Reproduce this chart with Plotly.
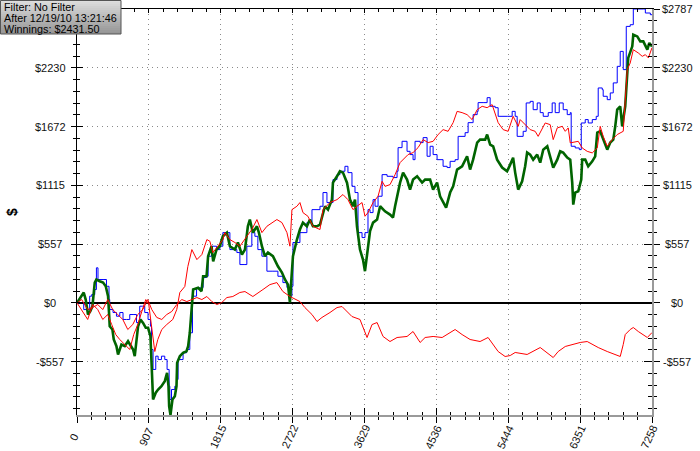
import plotly.graph_objects as go

# ---------------- data (hands played, $ won) ----------------
net_hands = [0, 56, 85, 110, 139, 167, 195, 224, 245, 287, 329, 363, 392, 404, 413, 447, 464, 498, 518, 561,
             603, 644, 687, 708, 729, 751, 771, 801, 834, 868, 897, 927, 940, 953, 960, 994, 1024, 1066, 1108, 1137,
             1155, 1163, 1180, 1205, 1235, 1256, 1264, 1298, 1339, 1382, 1403, 1424, 1446, 1466, 1529, 1572, 1592,
             1635, 1655, 1698, 1719, 1761, 1803, 1841, 1892, 1930, 1993, 2031, 2082, 2120, 2157, 2182, 2220, 2271,
             2296, 2334, 2372, 2410, 2473, 2536, 2587, 2625, 2663, 2688, 2700, 2726, 2776, 2814, 2852, 2902, 2940,
             2978, 3029, 3067, 3130, 3168, 3218, 3231, 3282, 3319, 3357, 3408, 3446, 3484, 3509, 3534, 3572, 3610,
             3635, 3661, 3699, 3737, 3788, 3826, 3888, 3951, 3989, 4015, 4078, 4116, 4166, 4204, 4242, 4293, 4356,
             4394, 4457, 4495, 4545, 4583, 4621, 4659, 4710, 4748, 4798, 4861, 4924, 4962, 5000, 5051, 5088, 5152,
             5177, 5215, 5253, 5303, 5366, 5429, 5468, 5505, 5531, 5569, 5619, 5657, 5682, 5720, 5758, 5809, 5847,
             5885, 5936, 5973, 6011, 6062, 6099, 6137, 6188, 6226, 6251, 6264, 6289, 6327, 6365, 6377, 6415, 6453,
             6504, 6541, 6567, 6604, 6642, 6693, 6731, 6769, 6794, 6819, 6857, 6882, 6920, 6946, 6958, 7009, 7022,
             7072, 7110, 7148, 7199, 7224, 7258]
net_won = [0, 63, 98, 31, -111, -80, -32, 192, 221, 205, 192, 157, 63, -92, -222, -253, -348, -411, -490, -395,
           -411, -364, -411, -443, -506, -348, -222, -158, -190, -237, -237, -317, -538, -791, -917, -853, -822, -791,
           -743, -664, -791, -980, -1064, -917, -885, -791, -569, -506, -474, -459, -411, -284, -32, 126, 142, 110,
           252, 252, 442, 537, 394, 505, 537, 631, 666, 537, 505, 572, 458, 505, 726, 790, 666, 726, 666, 537, 442,
           477, 442, 347, 287, 221, 173, 3, 157, 442, 600, 695, 761, 726, 790, 726, 726, 742, 916, 884, 979, 1140,
           1200, 1248, 1235, 1140, 979, 916, 979, 726, 505, 410, 300, 442, 680, 761, 790, 916, 868, 837, 809, 916,
           1140, 1235, 1169, 1074, 1169, 1200, 1140, 1169, 1169, 1074, 1140, 1011, 951, 903, 1046, 1105, 1264, 1295,
           1390, 1264, 1358, 1520, 1548, 1548, 1596, 1501, 1485, 1358, 1283, 1248, 1311, 1377, 1235, 1074, 1153,
           1295, 1425, 1406, 1358, 1406, 1330, 1453, 1485, 1390, 1283, 1358, 1437, 1425, 1377, 1358, 1140, 932,
           1046, 1058, 1169, 1358, 1358, 1295, 1342, 1390, 1614, 1627, 1548, 1453, 1520, 1548, 1674, 1832, 1864,
           1674, 1864, 2243, 2323, 2433, 2543, 2527, 2480, 2480, 2401, 2465, 2431.5]

ev_hands = [0, 34, 85, 135, 160, 186, 224, 245, 265, 329, 372, 404, 413, 455, 498, 540, 581, 624, 666, 708, 751,
            792, 826, 855, 897, 927, 940, 960, 994, 1024, 1066, 1108, 1137, 1163, 1172, 1193, 1235, 1256, 1276,
            1339, 1382, 1424, 1458, 1509, 1572, 1592, 1635, 1655, 1698, 1761, 1803, 1841, 1930, 2018, 2056, 2120,
            2144, 2207, 2245, 2283, 2334, 2397, 2473, 2536, 2599, 2650, 2688, 2713, 2726, 2789, 2814, 2902, 2966,
            3067, 3105, 3155, 3193, 3231, 3282, 3319, 3382, 3420, 3471, 3509, 3547, 3598, 3635, 3673, 3699, 3737,
            3762, 3800, 3851, 3914, 3989, 4040, 4053, 4103, 4166, 4204, 4242, 4267, 4331, 4369, 4419, 4457, 4495,
            4545, 4621, 4672, 4710, 4773, 4811, 4899, 4937, 4987, 5000, 5051, 5063, 5126, 5177, 5215, 5278, 5316,
            5430, 5493, 5531, 5556, 5632, 5670, 5720, 5758, 5809, 5847, 5885, 5948, 5998, 6036, 6087, 6137, 6188,
            6226, 6238, 6289, 6340, 6365, 6415, 6453, 6504, 6554, 6579, 6630, 6642, 6693, 6731, 6769, 6819, 6857,
            6895, 6933, 6983, 7022, 7148, 7174, 7237, 7258]
ev_won = [0, 3, -64, -64, 63, 79, 126, 332, 221, 221, 157, 31, -64, -92, -127, -92, -158, -158, -111, -111, -187,
          -32, -32, -92, -158, -222, -443, -632, -506, -538, -506, -538, -632, -791, -917, -822, -791, -727, -538,
          -474, -443, -284, 63, 142, 145, 240, 252, 442, 537, 505, 537, 666, 505, 477, 363, 363, 537, 666, 631, 505,
          442, 300, 300, 252, 192, 145, 63, 157, 572, 572, 666, 761, 884, 916, 1046, 951, 951, 1169, 1216, 1248,
          1295, 1235, 1105, 1046, 666, 619, 666, 884, 856, 979, 916, 1011, 1216, 1200, 1188, 1248, 1472, 1532, 1437,
          1406, 1358, 1532, 1520, 1567, 1390, 1485, 1406, 1358, 1295, 1283, 1342, 1358, 1579, 1614, 1709, 1709,
          1785, 1816, 1899, 1899, 1946, 1864, 1851, 1769, 1769, 1816, 1769, 1579, 1627, 1896, 1911, 1832, 1896,
          1804, 1769, 1804, 1896, 1804, 1896, 1832, 1785, 1804, 1485, 1469, 1453, 1706, 1738, 1706, 1738, 1769,
          2038, 2022, 1959, 1927, 1991, 2086, 2243, 2385, 2212, 2622, 2638, 2787, 2787, 2749, 2733, 2733]

sd_hands = [0, 59, 135, 198, 262, 325, 388, 438, 489, 540, 603, 666, 716, 767, 818, 868, 906, 944, 982, 1020,
            1070, 1133, 1209, 1259, 1298, 1361, 1399, 1450, 1513, 1576, 1639, 1677, 1715, 1778, 1841, 1866, 1930,
            1993, 2056, 2144, 2207, 2271, 2334, 2397, 2460, 2523, 2587, 2650, 2688, 2713, 2776, 2814, 2852, 2915,
            2978, 3067, 3105, 3193, 3282, 3357, 3420, 3484, 3534, 3598, 3635, 3673, 3737, 3800, 3851, 3888, 3951,
            4015, 4078, 4116, 4179, 4242, 4305, 4369, 4432, 4495, 4558, 4621, 4684, 4748, 4798, 4861, 4924, 4987,
            5051, 5114, 5177, 5240, 5278, 5316, 5379, 5442, 5505, 5569, 5594, 5682, 5720, 5783, 5821, 5910, 5973,
            6011, 6062, 6125, 6163, 6201, 6226, 6327, 6377, 6440, 6504, 6567, 6604, 6642, 6693, 6756, 6819, 6895,
            6933, 6946, 6983, 7022, 7085, 7135, 7174, 7212, 7258]
sd_won = [0, -64, -158, -16, -64, -158, -111, -206, -301, -348, -395, -443, -301, -206, -82, 31, -16, -253, -462,
          -348, -253, -206, -158, -64, 98, 155, 344, 505, 410, 458, 600, 584, 477, 537, 600, 666, 600, 572, 537, 631,
          695, 790, 666, 726, 761, 790, 761, 666, 537, 884, 916, 951, 856, 821, 726, 695, 884, 951, 979, 1027, 979,
          884, 916, 951, 821, 856, 951, 1011, 1153, 1105, 1121, 1216, 1330, 1358, 1406, 1425, 1472, 1548, 1520,
          1532, 1596, 1643, 1627, 1709, 1816, 1804, 1785, 1738, 1832, 1864, 1851, 1880, 1804, 1709, 1643, 1627,
          1769, 1674, 1738, 1674, 1643, 1627, 1579, 1706, 1690, 1548, 1659, 1674, 1627, 1659, 1517, 1532, 1469,
          1437, 1422, 1469, 1674, 1579, 1485, 1548, 1596, 1627, 2022, 2212, 2275, 2401, 2370, 2338, 2354, 2323,
          2420]

nsd_hands = [0, 59, 135, 198, 262, 325, 388, 451, 514, 578, 641, 704, 767, 830, 893, 944, 1007, 1070, 1133, 1196,
             1259, 1323, 1386, 1450, 1513, 1576, 1639, 1702, 1765, 1828, 1892, 1967, 2056, 2120, 2220, 2347, 2435,
             2523, 2599, 2688, 2814, 2877, 2966, 3029, 3092, 3193, 3282, 3345, 3471, 3572, 3635, 3661, 3724, 3788,
             3863, 3951, 4040, 4166, 4242, 4331, 4394, 4495, 4609, 4773, 4861, 4962, 5088, 5189, 5316, 5404, 5468,
             5531, 5682, 5847, 6011, 6074, 6163, 6251, 6352, 6440, 6579, 6693, 6794, 6857, 6895, 6920, 6983, 7022,
             7085, 7148, 7199, 7258]
nsd_won = [0, 31, -64, -45, -16, -64, 31, -64, -111, -158, -253, -206, -111, -64, 31, -64, -139, -158, -111, -82,
           -16, 31, 12, 31, 50, 31, 60, 12, -16, 3, 50, 60, 98, 107, 60, 126, 173, 192, 107, 60, 12, -45, -111,
           -177, -139, -92, -45, -35, -130, -158, -282, -329, -206, -187, -319, -367, -329, -319, -272, -376, -329,
           -319, -329, -253, -301, -348, -367, -329, -462, -509, -500, -471, -490, -424, -519, -462, -414, -395,
           -376, -367, -424, -462, -490, -509, -395, -301, -253, -234, -272, -301, -329, -282]

x_tick_labels = ["0", "907", "1815", "2722", "3629", "4536", "5444", "6351", "7258"]
y_tick_labels = ["-$557", "$0", "$557", "$1115", "$1672", "$2230", "$2787"]
info_lines = ["Filter: No Filter", "After 12/19/10 13:21:46", "Winnings: $2431.50"]
y_title = "$"

# ---------------- geometry / style ----------------
W, H = 700, 451
ML, MR, MT, MB = 77, 48, 9, 36
PW, PH = W - ML - MR, H - MT - MB


def px_x(px):
    return (px - ML) / PW


def px_y(py):
    return (H - MB - py) / PH


x_max = max(net_hands + ev_hands + sd_hands + nsd_hands)
y_max = max(net_won + ev_won + sd_won + nsd_won)
y_min = min(net_won + ev_won + sd_won + nsd_won)
x_step = x_max / 8
y_step = y_max / 5

fig = go.Figure()
fig.add_trace(go.Scatter(x=ev_hands, y=ev_won, mode="lines", line=dict(color="#0000ff", width=1, shape="hv"),
                         name="EV", showlegend=False))
fig.add_trace(go.Scatter(x=net_hands, y=net_won, mode="lines", line=dict(color="#006400", width=2.6),
                         name="Winnings", showlegend=False))
fig.add_trace(go.Scatter(x=sd_hands, y=sd_won, mode="lines", line=dict(color="#ff0000", width=1),
                         name="Showdown", showlegend=False))
fig.add_trace(go.Scatter(x=nsd_hands, y=nsd_won, mode="lines", line=dict(color="#ff0000", width=1),
                         name="Non-showdown", showlegend=False))

# invisible traces so the tick-only twin axes are drawn
for xa, ya in [("x2", "y"), ("x3", "y"), ("x", "y2"), ("x", "y3"), ("x", "y4")]:
    fig.add_trace(go.Scatter(x=[0], y=[0], xaxis=xa, yaxis=ya, mode="markers",
                             marker=dict(opacity=0), hoverinfo="skip", showlegend=False))

grid = dict(showgrid=True, gridcolor="#8a8a8a", gridwidth=1, griddash="1px,4px")
common_x = dict(range=[0, x_max], tickmode="linear", tick0=0, dtick=x_step, showticklabels=False,
                zeroline=False, tickcolor="black", tickwidth=1)
common_y = dict(range=[y_min, y_max], tickmode="linear", tick0=0, dtick=y_step, showticklabels=False,
                tickcolor="black", tickwidth=1)


def minor(direction, length, step):
    return dict(tickmode="linear", tick0=0, dtick=step, ticks=direction, ticklen=length,
                tickcolor="black", tickwidth=1, showgrid=False)


fig.update_layout(
    width=W, height=H,
    margin=dict(l=ML, r=MR, t=MT, b=MB, pad=0),
    paper_bgcolor="white", plot_bgcolor="white",
    showlegend=False,
    xaxis=dict(**common_x, **grid, anchor="y", side="bottom", ticks="outside", ticklen=6,
               minor=minor("outside", 3, x_step / 5),
               showline=True, linecolor="#9a9a9a", linewidth=2),
    xaxis2=dict(**common_x, overlaying="x", anchor="y", side="bottom", ticks="inside", ticklen=7,
                minor=minor("inside", 3, x_step / 5), showgrid=False, showline=False),
    xaxis3=dict(**common_x, overlaying="x", anchor="y", side="top", ticks="inside", ticklen=4,
                minor=minor("inside", 3, x_step / 5), showgrid=False,
                showline=True, linecolor="black", linewidth=1),
    yaxis=dict(**common_y, **grid, anchor="x", side="left", ticks="outside", ticklen=5,
               minor=minor("outside", 3, y_step / 5),
               showline=True, linecolor="black", linewidth=1,
               zeroline=True, zerolinecolor="black", zerolinewidth=1.5),
    yaxis2=dict(**common_y, overlaying="y", anchor="x", side="left", ticks="inside", ticklen=6,
                minor=minor("inside", 3, y_step / 5), showgrid=False, showline=False, zeroline=False),
    yaxis3=dict(**common_y, overlaying="y", anchor="x", side="right", ticks="outside", ticklen=6,
                minor=minor("outside", 3, y_step / 5), showgrid=False, zeroline=False,
                showline=True, linecolor="#9a9a9a", linewidth=2),
    yaxis4=dict(**common_y, overlaying="y", anchor="x", side="right", ticks="inside", ticklen=8,
                minor=minor("inside", 4, y_step / 5), showgrid=False, showline=False, zeroline=False),
)

tick_font = dict(family="Liberation Sans, Arial, sans-serif", size=11, color="#111111")
annotations = []
for i, lab in enumerate(y_tick_labels):
    val = (i - 1) * y_step
    for px in (50, 677):
        if px == 50 and i == len(y_tick_labels) - 1:
            continue  # hidden behind the info box in the original
        annotations.append(dict(x=px_x(px), xref="paper", y=val, yref="y", text=lab, showarrow=False,
                                xanchor="center", yanchor="middle", font=tick_font))
for i, lab in enumerate(x_tick_labels):
    annotations.append(dict(x=i * x_step, xref="x", y=px_y(437), yref="paper", text=lab, showarrow=False,
                            textangle=-65, xanchor="center", yanchor="middle", xshift=-3, font=tick_font))
annotations.append(dict(x=px_x(12), xref="paper", y=0.5, yref="paper", text="<b>" + y_title + "</b>",
                        showarrow=False, textangle=-90, xanchor="center", yanchor="middle",
                        font=dict(family="Liberation Sans, Arial, sans-serif", size=14, color="black")))

# info box (gradient made from thin strips)
shapes = []
n_strips = 17
box_w, box_h = 121, 34
for k in range(n_strips):
    c = int(222 - (222 - 150) * k / (n_strips - 1))
    shapes.append(dict(type="rect", xref="paper", yref="paper", layer="above",
                       x0=px_x(0), x1=px_x(box_w), y0=px_y(box_h * k / n_strips), y1=px_y(box_h * (k + 1) / n_strips),
                       line=dict(width=0), fillcolor=f"rgb({c},{c},{c})"))
shapes.append(dict(type="rect", xref="paper", yref="paper", layer="above",
                   x0=px_x(0.5), x1=px_x(box_w), y0=px_y(0.5), y1=px_y(box_h),
                   line=dict(color="#555555", width=1), fillcolor="rgba(0,0,0,0)"))
for j, line in enumerate(info_lines):
    annotations.append(dict(x=px_x(1.5), xref="paper", y=px_y(6.5 + 11 * j), yref="paper", text=line,
                            showarrow=False, xanchor="left", yanchor="middle",
                            font=dict(family="Liberation Sans, Arial, sans-serif", size=10.8, color="black")))

fig.update_layout(annotations=annotations, shapes=shapes)
fig.write_html("out.html", config={"displayModeBar": False},
               post_script="document.body.style.margin='0px';document.body.style.overflow='hidden';")
